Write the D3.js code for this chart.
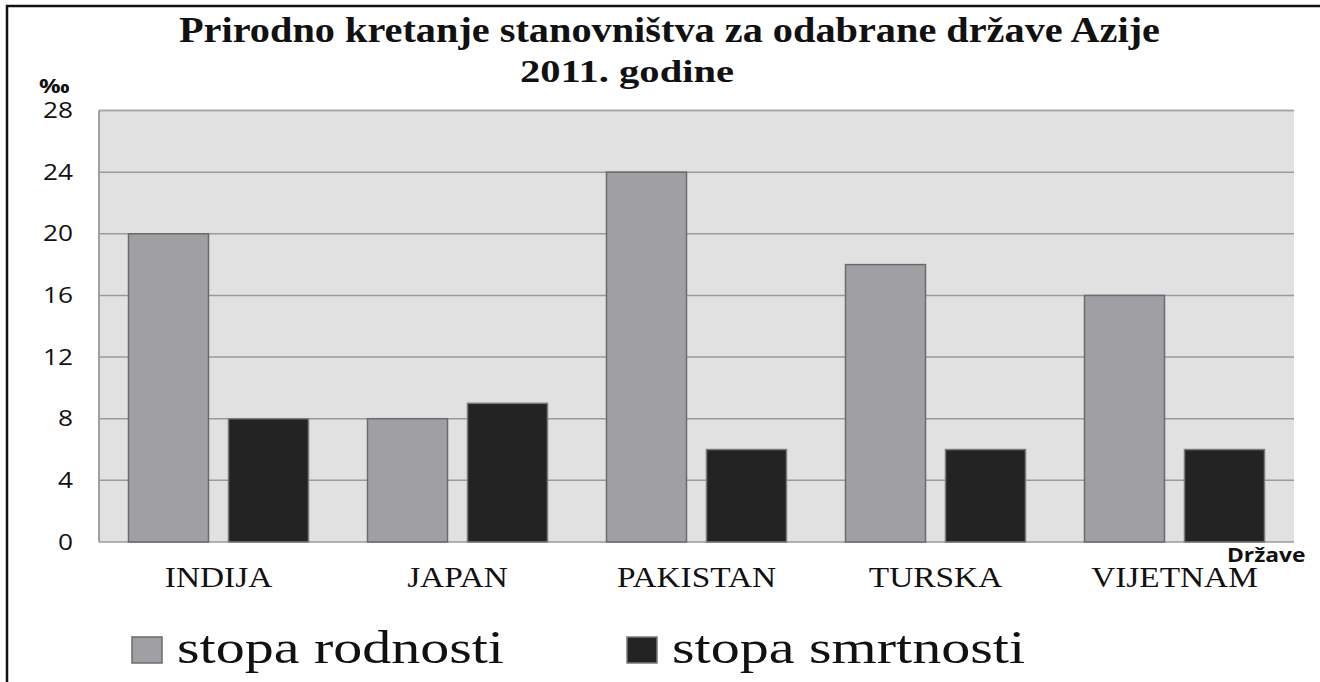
<!DOCTYPE html>
<html>
<head>
<meta charset="utf-8">
<script src="https://cdn.jsdelivr.net/npm/d3@7"></script>
<style>
  body { margin: 0; background: #ffffff; }
  .serif { font-family: "Liberation Serif", "Times New Roman", serif; fill: #111; }
  .sans { font-family: "Open Sans", "DejaVu Sans", sans-serif; fill: #111; }
</style>
</head>
<body>
<div class="chart-div"></div>
<script>
// data
const countries = ["INDIJA", "JAPAN", "PAKISTAN", "TURSKA", "VIJETNAM"];
const seriesNames = ["stopa rodnosti", "stopa smrtnosti"];
const birthRate = [20, 8, 24, 18, 16];
const deathRate = [8, 9, 6, 6, 6];
const yTicks = [0, 4, 8, 12, 16, 20, 24, 28];

const colours = { "stopa rodnosti": "#a09fa4", "stopa smrtnosti": "#232323" };
const strokes = { "stopa rodnosti": "#6b6b6b", "stopa smrtnosti": "#7a7a7a" };

let width = 1320;
let height = 682;

const margin = { top: 110.5, right: 26, bottom: 140, left: 99 };

let svg = d3.select(".chart-div").append("svg")
  .attr("width", width)
  .attr("height", height);

// outer frame (only left and top edges are visible)
svg.append("rect")
  .attr("x", 7)
  .attr("y", 6)
  .attr("width", 1400)
  .attr("height", 800)
  .attr("fill", "none")
  .attr("stroke", "#111")
  .attr("stroke-width", 2.5);

let x0 = d3.scaleBand()
  .domain(countries)
  .range([margin.left, width - margin.right])
  .paddingInner(0)
  .paddingOuter(0);

let x1 = d3.scaleBand()
  .domain(seriesNames)
  .range([0, x0.bandwidth()])
  .paddingInner(0.2)
  .paddingOuter(0.295);

let y = d3.scaleLinear()
  .domain([0, 28])
  .range([height - margin.bottom, margin.top]);

// plot background
svg.append("rect")
  .attr("x", margin.left)
  .attr("y", y(28))
  .attr("width", width - margin.right - margin.left)
  .attr("height", y(0) - y(28))
  .attr("fill", "#e1e1e1");

// gridlines
svg.append("g")
  .selectAll("line")
  .data(yTicks)
  .enter()
  .append("line")
  .attr("x1", margin.left)
  .attr("x2", width - margin.right)
  .attr("y1", d => y(d))
  .attr("y2", d => y(d))
  .attr("stroke", d => d == 28 ? "#a8a8a8" : "#9a9a9a")
  .attr("stroke-width", d => d == 28 ? 2 : 1.5);

svg.append("line")
  .attr("x1", margin.left)
  .attr("x2", margin.left)
  .attr("y1", y(28))
  .attr("y2", y(0))
  .attr("stroke", "#a0a0a0")
  .attr("stroke-width", 2);

// y tick labels
svg.append("g")
  .selectAll("text")
  .data(yTicks)
  .enter()
  .append("text")
  .attr("class", "sans")
  .attr("transform", d => `translate(73, ${y(d)}) scale(1.25, 1)`)
  .attr("dy", "0.36em")
  .style("text-anchor", "end")
  .style("font-size", "21px")
  .text(d => d);

svg.append("text")
  .attr("class", "sans")
  .attr("transform", "translate(39, 93) scale(1.2, 1)")
  .style("font-size", "20px")
  .style("font-weight", "bold")
  .text("‰");

// bars
let rows = countries.map((c, i) => ({
  country: c,
  values: [
    { key: seriesNames[0], value: birthRate[i] },
    { key: seriesNames[1], value: deathRate[i] }
  ]
}));

let groups = svg.append("g")
  .selectAll("g")
  .data(rows)
  .enter()
  .append("g")
  .attr("transform", d => `translate(${x0(d.country)}, 0)`);

groups.selectAll("rect")
  .data(d => d.values)
  .enter()
  .append("rect")
  .attr("x", d => x1(d.key))
  .attr("y", d => y(d.value))
  .attr("width", x1.bandwidth())
  .attr("height", d => y(0) - y(d.value))
  .attr("fill", d => colours[d.key])
  .attr("stroke", d => strokes[d.key])
  .attr("stroke-width", 1.5);

// category labels
svg.append("g")
  .selectAll("text")
  .data(countries)
  .enter()
  .append("text")
  .attr("class", "serif")
  .attr("transform", d => `translate(${x0(d) + x0.bandwidth() / 2}, 587) scale(1.15, 1)`)
  .style("text-anchor", "middle")
  .style("font-size", "29px")
  .text(d => d);

svg.append("text")
  .attr("class", "sans")
  .attr("transform", "translate(1227, 562) scale(1.2, 1)")
  .style("font-size", "19px")
  .style("font-weight", "bold")
  .text("Države");

// title
svg.append("text")
  .attr("class", "serif")
  .attr("x", 179)
  .attr("y", 42)
  .attr("textLength", 981)
  .attr("lengthAdjust", "spacingAndGlyphs")
  .style("font-size", "35px")
  .style("font-weight", "bold")
  .text("Prirodno kretanje stanovništva za odabrane države Azije");

svg.append("text")
  .attr("class", "serif")
  .attr("x", 520)
  .attr("y", 82)
  .attr("textLength", 214)
  .attr("lengthAdjust", "spacingAndGlyphs")
  .style("font-size", "31px")
  .style("font-weight", "bold")
  .text("2011. godine");

// legend
let legendX = [132, 627];
let legendW = [327, 353];

let legend = svg.append("g")
  .selectAll("g")
  .data(seriesNames)
  .enter()
  .append("g")
  .attr("transform", (d, i) => `translate(${legendX[i]}, 637)`);

legend.append("rect")
  .attr("width", 30)
  .attr("height", 26)
  .attr("fill", d => colours[d])
  .attr("stroke", d => strokes[d])
  .attr("stroke-width", 1.5);

legend.append("text")
  .attr("class", "serif")
  .attr("x", 45)
  .attr("y", 26)
  .attr("textLength", (d, i) => legendW[i])
  .attr("lengthAdjust", "spacingAndGlyphs")
  .style("font-size", "46px")
  .text(d => d);
</script>
</body>
</html>
